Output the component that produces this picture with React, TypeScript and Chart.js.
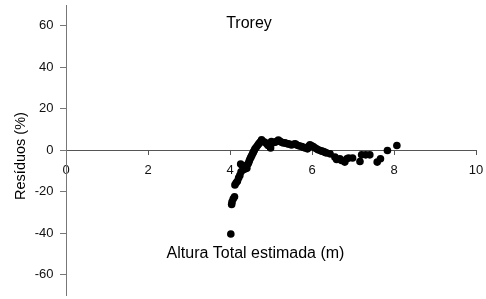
import React, { useEffect, useRef } from "react";
import { Chart, registerables } from "chart.js";

Chart.register(...registerables);

const titleText = "Trorey";
const xTitle = "Altura Total estimada (m)";
const yTitle = "Resíduos (%)";

const xTickValues = [0, 2, 4, 6, 8, 10];
const yTickValues = [-60, -40, -20, 0, 20, 40, 60];

const alturaEstimada = [
  4.02, 4.04, 4.05, 4.08, 4.11, 4.12, 4.15, 4.18, 4.21, 4.24, 4.27, 4.26, 4.3, 4.34, 4.38, 4.41,
  4.43, 4.45, 4.47, 4.49, 4.51, 4.53, 4.55, 4.57, 4.59, 4.61, 4.64, 4.67, 4.7, 4.73, 4.77, 4.8,
  4.85, 4.9, 4.93, 4.99, 4.96, 5.01, 5.05, 5.1, 5.14, 5.18, 5.22, 5.26, 5.3, 5.34, 5.38, 5.42,
  5.46, 5.5, 5.55, 5.59, 5.62, 5.66, 5.7, 5.75, 5.79, 5.83, 5.89, 5.92, 5.95, 5.99, 6.03, 6.07,
  6.11, 6.15, 6.2, 6.24, 6.28, 6.32, 6.36, 6.44, 6.56, 6.6, 6.68, 6.72, 6.8, 6.85, 6.89, 6.99,
  7.17, 7.21, 7.31, 7.41, 7.59, 7.67, 7.84, 8.07,
];

const residuos = [
  -40.5, -26.2, -25, -23.5, -22.5, -16.8, -15.8, -15, -13.4, -12.2, -10.5, -6.7, -7.5, -9.3, -7.7, -8.8,
  -7, -6.2, -5.2, -4.2, -3.4, -2.6, -1.8, -1, -0.2, 0.6, 1.4, 2.2, 3, 3.8, 5, 4.2,
  3.8, 3, 2.2, 1, 3.3, 4.1, 3.6, 3.8, 4.2, 4.8, 4.2, 3.8, 3.4, 3.5, 3.2, 3,
  2.8, 2.5, 2.8, 3, 2.6, 2.2, 2, 1.7, 1.4, 1, 0.6, 1.8, 2.5, 2.1, 1.7, 1.1,
  0.6, 0.2, -0.2, -0.5, -0.7, -1.1, -1.4, -1.8, -3.4, -4.5, -4.2, -5, -5.8, -4.2, -3.8, -3.8,
  -5.5, -2.3, -2.3, -2.3, -5.8, -4.2, -0.2, 2.2,
];

const FONT = "'Liberation Sans', Arial, sans-serif";

const textPlugin = {
  id: "texts",
  afterDraw(chart: any) {
    const ctx = chart.ctx;
    ctx.save();
    ctx.fillStyle = "#000";
    ctx.textAlign = "center";
    ctx.textBaseline = "alphabetic";
    ctx.font = `16px ${FONT}`;
    ctx.fillText(titleText, 249, 28);
    ctx.fillText(xTitle, 255.5, 258);
    ctx.translate(25, 156);
    ctx.rotate(-Math.PI / 2);
    ctx.font = `14.5px ${FONT}`;
    ctx.fillText(yTitle, 0, 0);
    ctx.restore();
  },
};

const zeroPad = (scale: any) => {
  scale.paddingTop = 0;
  scale.paddingBottom = 0;
  scale.paddingLeft = 0;
  scale.paddingRight = 0;
};

export default function App() {
  const ref = useRef<HTMLCanvasElement | null>(null);

  useEffect(() => {
    if (!ref.current) return;
    const points = alturaEstimada.map((x, i) => ({ x, y: residuos[i] }));
    const chart = new Chart(ref.current, {
      type: "scatter",
      data: {
        datasets: [
          {
            data: points,
            backgroundColor: "#000",
            borderColor: "#000",
            borderWidth: 0,
            pointRadius: 3.8,
            pointHoverRadius: 3.8,
          },
        ],
      },
      options: {
        responsive: false,
        animation: false,
        layout: { padding: { left: 0, right: 10, top: 5, bottom: 0.2 } },
        plugins: {
          legend: { display: false },
          tooltip: { enabled: false },
          title: { display: false },
        },
        scales: {
          x: {
            type: "linear",
            position: { y: 0 } as any,
            min: 0,
            max: 10,
            afterBuildTicks: (scale: any) => {
              scale.ticks = xTickValues.map((v) => ({ value: v }));
            },
            afterFit: (scale: any) => {
              zeroPad(scale);
            },
            grid: {
              display: true,
              drawOnChartArea: false,
              drawTicks: true,
              tickLength: 4,
              tickColor: "#555",
            },
            border: { display: true, color: "#555", width: 1 },
            ticks: {
              padding: 9,
              color: "#111",
              font: { family: FONT, size: 13 },
              maxRotation: 0,
              autoSkip: false,
            },
          },
          y: {
            type: "linear",
            position: "left",
            min: -70,
            max: 70,
            afterBuildTicks: (scale: any) => {
              scale.ticks = yTickValues.map((v) => ({ value: v }));
            },
            afterFit: (scale: any) => {
              scale.width = 66;
              zeroPad(scale);
            },
            grid: {
              display: true,
              drawOnChartArea: false,
              drawTicks: true,
              tickLength: 6,
              tickColor: "#777",
            },
            border: { display: true, color: "#777", width: 1 },
            ticks: {
              padding: 6.5,
              color: "#111",
              font: { family: FONT, size: 13 },
              autoSkip: false,
            },
          },
        },
      },
      plugins: [textPlugin],
    });
    return () => chart.destroy();
  }, []);

  return (
    <div style={{ position: "absolute", left: 0, top: 0, width: 486, height: 299, background: "#fff" }}>
      <canvas ref={ref} width={486} height={299} style={{ display: "block" }} />
    </div>
  );
}
